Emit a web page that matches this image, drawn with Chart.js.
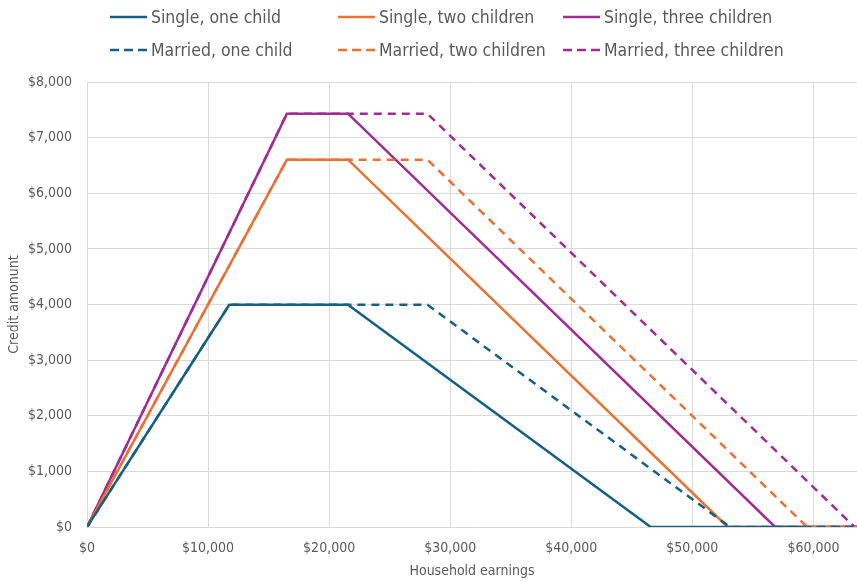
<!DOCTYPE html>
<html>
<head>
<meta charset="utf-8">
<script src="https://cdn.jsdelivr.net/npm/chart.js@4.4.1/dist/chart.umd.min.js"></script>
<style>
  html, body { margin: 0; padding: 0; background: #fff; }
  #wrap { width: 857px; height: 581px; }
</style>
</head>
<body>
<div id="wrap"><canvas id="eitcChart" width="857" height="581"></canvas></div>
<script>
// Earnings breakpoints (x) and credit amounts (y)
const singleOneX = [0, 11750, 21560, 46560, 63600];
const marriedOneX = [0, 11750, 28120, 53120, 63600];
const oneChildY = [0, 3995, 3995, 0, 0];

const singleTwoX = [0, 16510, 21560, 52918, 63600];
const marriedTwoX = [0, 16510, 28120, 59478, 63600];
const twoChildY = [0, 6604, 6604, 0, 0];

const singleThreeX = [0, 16510, 21560, 56838, 63600];
const marriedThreeX = [0, 16510, 28120, 63398, 63600];
const threeChildY = [0, 7430, 7430, 0, 0];

const xTickValues = [0, 10000, 20000, 30000, 40000, 50000, 60000];

const seriesLabels = [
    'Single, one child', 'Single, two children', 'Single, three children',
    'Married, one child', 'Married, two children', 'Married, three children'
];

// Colors
const blueColor = '#156082';
const orangeColor = '#E97132';
const purpleColor = '#A02B93';
const textColor = '#595959';
const gridColor = '#d9d9d9';
const fontFamily = "'DejaVu Sans Condensed', 'Liberation Sans', sans-serif";

const toPoints = (xs, ys) => xs.map((x, i) => ({ x: x, y: ys[i] }));

function makeSet(label, xs, ys, color, dashed, order) {
    return {
        label: label,
        data: toPoints(xs, ys),
        borderColor: color,
        backgroundColor: color,
        borderWidth: 2.5,
        borderDash: dashed ? [8, 6] : [],
        pointRadius: 0,
        tension: 0,
        fill: false,
        order: order
    };
}

// Legend drawn in a fixed 3 x 2 grid above the plot
const gridLegend = {
    id: 'gridLegend',
    afterDraw: (chart) => {
        const ctx = chart.ctx;
        const cols = [110, 338, 563];
        const rows = [17, 50];
        ctx.save();
        ctx.font = '17.5px ' + fontFamily;
        ctx.textBaseline = 'middle';
        ctx.textAlign = 'left';
        seriesLabels.forEach((label, i) => {
            const ds = chart.data.datasets.find(d => d.label === label);
            const x = cols[i % 3];
            const y = rows[Math.floor(i / 3)];
            ctx.beginPath();
            ctx.strokeStyle = ds.borderColor;
            ctx.lineWidth = 2.5;
            ctx.setLineDash(ds.borderDash.length ? [9, 5] : []);
            ctx.moveTo(x, y);
            ctx.lineTo(x + 37, y);
            ctx.stroke();
            ctx.setLineDash([]);
            ctx.fillStyle = textColor;
            ctx.fillText(label, x + 41, y + 1);
        });
        ctx.restore();
    }
};

new Chart(document.getElementById('eitcChart').getContext('2d'), {
    type: 'line',
    data: {
        datasets: [
            makeSet('Single, one child', singleOneX, oneChildY, blueColor, false, 4),
            makeSet('Single, two children', singleTwoX, twoChildY, orangeColor, false, 5),
            makeSet('Single, three children', singleThreeX, threeChildY, purpleColor, false, 6),
            makeSet('Married, one child', marriedOneX, oneChildY, blueColor, true, 1),
            makeSet('Married, two children', marriedTwoX, twoChildY, orangeColor, true, 2),
            makeSet('Married, three children', marriedThreeX, threeChildY, purpleColor, true, 3)
        ]
    },
    options: {
        responsive: false,
        animation: false,
        layout: { padding: { top: 82, right: 0, left: 0, bottom: 0 } },
        plugins: {
            legend: { display: false },
            title: { display: false },
            tooltip: { enabled: false }
        },
        scales: {
            x: {
                type: 'linear',
                min: 0,
                max: 63600,
                afterFit: (scale) => { scale.height = 54; },
                afterBuildTicks: (scale) => {
                    scale.ticks = xTickValues.map(v => ({ value: v }));
                },
                grid: { color: gridColor, drawTicks: false },
                border: { color: gridColor },
                ticks: {
                    padding: 13,
                    color: textColor,
                    font: { family: fontFamily, size: 14 },
                    callback: (value) => '$' + value.toLocaleString('en-US')
                },
                title: {
                    display: true,
                    text: 'Household earnings',
                    color: textColor,
                    font: { family: fontFamily, size: 14 },
                    padding: { top: 0, bottom: 1 }
                }
            },
            y: {
                min: 0,
                max: 8000,
                afterFit: (scale) => { scale.width = 87; },
                grid: { color: gridColor, drawTicks: false },
                border: { color: gridColor },
                ticks: {
                    stepSize: 1000,
                    padding: 15,
                    color: textColor,
                    font: { family: fontFamily, size: 14 },
                    callback: (value) => '$' + value.toLocaleString('en-US')
                },
                title: {
                    display: true,
                    text: 'Credit amonunt',
                    color: textColor,
                    font: { family: fontFamily, size: 14 },
                    padding: { top: 6, bottom: 0 }
                }
            }
        }
    },
    plugins: [gridLegend]
});
</script>
</body>
</html>
